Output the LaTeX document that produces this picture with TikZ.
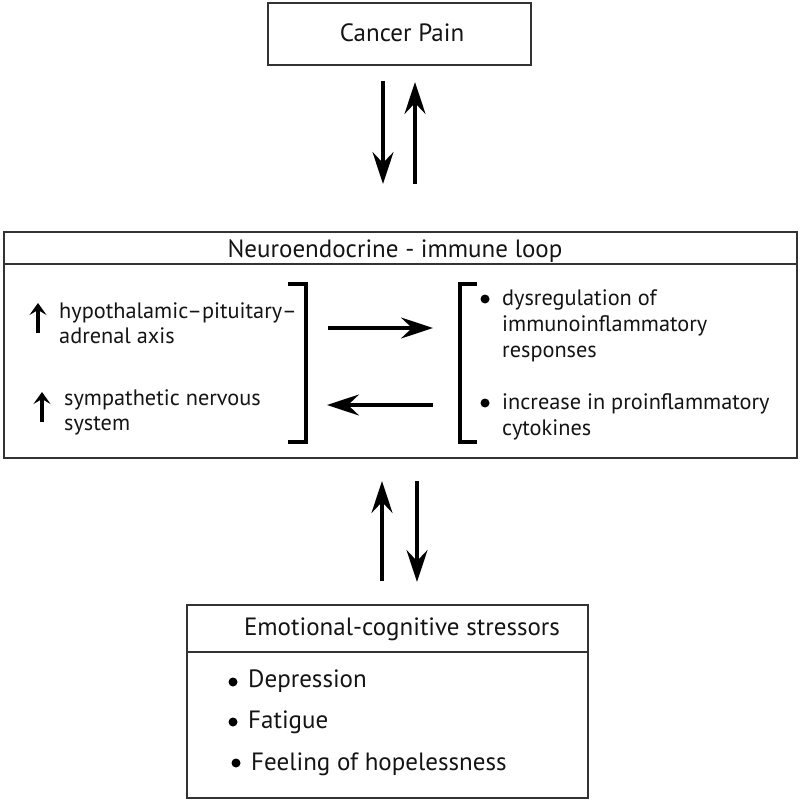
\documentclass[tikz,border=0pt]{standalone}
\usepackage{fontspec}
\setmainfont{PT Sans}
\usetikzlibrary{arrows.meta}
\begin{document}
\begin{tikzpicture}[x=1pt,y=-1pt,
  box/.style={draw=black!80, line width=2pt, inner sep=0pt},
  rule/.style={draw=black!80, line width=2pt},
  bigarrow/.style={line width=3.2pt, -{Stealth[length=32pt,width=21pt,inset=11pt]}},
  smallarrow/.style={line width=3.2pt, -{Stealth[length=12pt,width=17pt,inset=5pt]}},
  brack/.style={line width=3.2pt},
  txt/.style={anchor=base west, inner sep=0pt, text=black!92, font=\fontsize{22.3}{26}\selectfont},
  btxt/.style={anchor=base west, inner sep=0pt, text=black!92, font=\fontsize{25}{28}\selectfont},
  ttl/.style={anchor=base, inner sep=0pt, text=black!92, font=\fontsize{25}{28}\selectfont},
  dot/.style={circle, fill=black, inner sep=0pt, minimum size=9pt}
]
\useasboundingbox (0,0) rectangle (800,802);
% boxes
\node[box, minimum width=263pt, minimum height=62pt] (cp) at (399.5,34) {};
\node[box, minimum width=793pt, minimum height=226pt] (nel) at (400.5,345) {};
\node[box, minimum width=401pt, minimum height=193pt] (ecs) at (387.5,701.5) {};
% header lines
\draw[rule] (nel.west |- 0,264) -- (nel.east |- 0,264);
\draw[rule] (ecs.west |- 0,652) -- (ecs.east |- 0,652);
% titles
\node[ttl] (cpt) at (402,42) {Cancer Pain};
\node[ttl] (nelt) at (395,257) {Neuroendocrine - immune loop};
\node[ttl] (ecst) at (402,635) {Emotional-cognitive stressors};
% left column
\coordinate (u1s) at (38,333); \coordinate (u1e) at (38,303);
\coordinate (u2s) at (42,422); \coordinate (u2e) at (42,392);
\draw[smallarrow] (u1s) -- (u1e);
\draw[smallarrow] (u2s) -- (u2e);
\node[txt] (l1) at (59,318) {hypothalamic–pituitary–};
\node[txt] (l2) at (59,343) {adrenal axis};
\node[txt] (l3) at (64,405) {sympathetic nervous};
\node[txt] (l4) at (64,430) {system};
% brackets
\draw[brack] (288,284) -- (306,284) -- (306,442) -- (288,442);
\draw[brack] (477,284) -- (460,284) -- (460,442) -- (477,442);
% right column
\node[dot] (d1) at (485,299) {};
\node[dot] (d2) at (485,403) {};
\node[txt] (r1) at (502,305) {dysregulation of};
\node[txt] (r2) at (502,331) {immunoinflammatory};
\node[txt] (r3) at (502,357) {responses};
\node[txt] (r4) at (502,409) {increase in proinflammatory};
\node[txt] (r5) at (502,435) {cytokines};
% horizontal arrows
\coordinate (h1s) at (328,328); \coordinate (h1e) at (433,328);
\coordinate (h2s) at (433,405); \coordinate (h2e) at (327,405);
\draw[bigarrow] (h1s) -- (h1e);
\draw[bigarrow] (h2s) -- (h2e);
% vertical arrows top
\draw[bigarrow] ([xshift=-16.5pt,yshift=-15pt]cp.south) -- ([xshift=-17.5pt,yshift=47pt]nel.north);
\draw[bigarrow] ([xshift=14.5pt,yshift=47pt]nel.north) -- ([xshift=15.5pt,yshift=-16pt]cp.south);
% vertical arrows bottom
\draw[bigarrow] ([xshift=-5.5pt,yshift=23pt]ecs.north) -- ([xshift=-18.5pt,yshift=-22pt]nel.south);
\draw[bigarrow] ([xshift=16.5pt,yshift=-22pt]nel.south) -- ([xshift=29.5pt,yshift=22pt]ecs.north);
% bottom list
\node[dot] (b1) at (233,682) {};
\node[dot] (b2) at (233,722) {};
\node[dot] (b3) at (236,763) {};
\node[btxt] (e1) at (248,687) {Depression};
\node[btxt] (e2) at (248,728) {Fatigue};
\node[btxt] (e3) at (251,770) {Feeling of hopelessness};
\end{tikzpicture}
\end{document}
